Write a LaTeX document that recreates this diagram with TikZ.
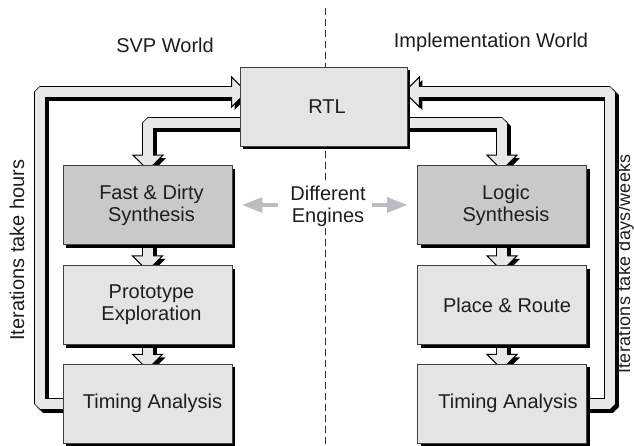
\documentclass[tikz,border=0pt]{standalone}
\usepackage{fontspec}
\setmainfont{Liberation Sans}
\usetikzlibrary{calc,shadows}
\definecolor{boxlight}{HTML}{E4E4E4}
\definecolor{boxdark}{HTML}{C9C9C9}
\definecolor{arrfill}{HTML}{E8E8E8}
\definecolor{txt}{HTML}{1E1E1E}
\definecolor{engarrow}{HTML}{BBBDC0}
\pgfdeclarelayer{back}
\pgfdeclarelayer{arrows}
\pgfsetlayers{back,arrows,main}
\newcommand{\headpoly}[2]{($(#1)!1!90:(#2)$) -- (#2) -- ($(#1)!1!-90:(#2)$) -- cycle}
\newcommand{\fatarrow}[3]{%
  \begin{scope}[transform canvas={xshift=3pt,yshift=-3pt}]
    \draw[black, line width=12pt, line join=bevel] #1;
    \fill[black] \headpoly{#2}{#3};
  \end{scope}
  \draw[black, line width=12pt, line join=bevel] #1;
  \filldraw[fill=arrfill, draw=black, line width=1pt, line join=miter] \headpoly{#2}{#3};
  \draw[arrfill, line width=10pt, line join=bevel, shorten >=-1pt] #1;
}
\begin{document}
\begin{tikzpicture}[x=1pt,y=-1pt,
  box/.style={draw=black!75, line width=0.8pt, fill=boxlight, minimum width=169pt,
    minimum height=79pt, inner sep=0pt,
    drop shadow={shadow xshift=3pt, shadow yshift=-3pt, fill=black, opacity=1}},
  darkbox/.style={box, fill=boxdark},
  lbl/.style={font=\fontsize{20}{22}\selectfont, text=txt, align=center},
  dashline/.style={draw=black!80, line width=0.9pt, dash pattern=on 7pt off 4pt},
  engarr/.style={engarrow, line width=4pt}
]
\useasboundingbox (0,0) rectangle (634,445);

% ---------------- boxes ----------------
\node[box, minimum width=167pt, label={[lbl, xshift=3.5pt]center:RTL}] (rtl) at (323.5,106.5) {};
\node[darkbox, label={[lbl, xshift=4pt]center:{Fast \& Dirty\\Synthesis}}] (fast) at (147.5,205) {};
\node[box, label={[lbl, xshift=4pt]center:{Prototype\\Exploration}}] (proto) at (147.5,305) {};
\node[box, label={[lbl, xshift=5pt]center:{Timing Analysis}}] (timL) at (147.5,403.5) {};
\node[darkbox, label={[lbl, xshift=4pt]center:{Logic\\Synthesis}}] (logic) at (502,205) {};
\node[box, label={[lbl, xshift=5pt]center:{Place \& Route}}] (pr) at (502,305) {};
\node[box, label={[lbl, xshift=6pt]center:{Timing Analysis}}] (timR) at (502,403.5) {};

% ---------------- titles and side labels ----------------
\node[lbl, anchor=base] (svp) at (165,52) {SVP World};
\node[lbl, anchor=base] (impl) at (491,47) {Implementation World};
\node[lbl, rotate=90, anchor=base] (ith) at (24,250) {Iterations take hours};
\node[lbl, font=\fontsize{18}{20}\selectfont, rotate=90, anchor=base, inner sep=0pt] (itd) at (630,264)
  {\addfontfeature{LetterSpace=1.8}Iterations take days/weeks};

% ---------------- different engines ----------------
\node[lbl, fill=white, inner sep=2pt] (de) at (328,206) {Different\\Engines};
\coordinate (eLt) at ($(fast.east)+(10,0)$);
\coordinate (eLb) at ($(fast.east)+(30,0)$);
\coordinate (eLs) at ($(fast.east)+(46,0)$);
\coordinate (eRt) at ($(logic.west)+(-10,0)$);
\coordinate (eRb) at ($(logic.west)+(-30,0)$);
\coordinate (eRs) at ($(logic.west)+(-45,0)$);
\draw[engarr] (eLs) -- ($(eLb)+(-1,0)$);
\fill[engarrow] ($(eLb)+(0,-8)$) -- (eLt) -- ($(eLb)+(0,8)$) -- cycle;
\draw[engarr] (eRs) -- ($(eRb)+(1,0)$);
\fill[engarrow] ($(eRb)+(0,-8)$) -- (eRt) -- ($(eRb)+(0,8)$) -- cycle;

% ---------------- divider ----------------
\begin{pgfonlayer}{back}
\coordinate (dtop) at (325,8);
\coordinate (dbot) at (325,445);
\draw[dashline] (dtop) -- (dbot);
\end{pgfonlayer}

% ---------------- fat arrows ----------------
\begin{pgfonlayer}{arrows}
% left loop
\coordinate (LLc) at (40,92);
\coordinate (LLb) at ($(rtl.west)+(-8,-14.5)$);
\coordinate (LLt) at ($(LLb)+(15,0)$);
\coordinate (LLs) at ($(timL.west)+(3,0)$);
\fatarrow{(LLs) -| (LLc) -- (LLb)}{LLb}{LLt}
% right loop
\coordinate (RRc) at (610,92);
\coordinate (RRb) at ($(rtl.east)+(12,-14.5)$);
\coordinate (RRt) at ($(RRb)+(-15,0)$);
\coordinate (RRs) at ($(timR.east)+(-3,0)$);
\fatarrow{(RRs) -| (RRc) -- (RRb)}{RRb}{RRt}
% RTL -> Fast & Dirty
\coordinate (FLc) at (148,123);
\coordinate (FLs) at ($(rtl.west |- FLc)+(3,0)$);
\coordinate (FLb) at ($(fast.north)+(0.5,-10)$);
\coordinate (FLt) at ($(FLb)+(0,15)$);
\fatarrow{(FLs) -| (FLb)}{FLb}{FLt}
% RTL -> Logic Synthesis
\coordinate (RLs) at ($(rtl.east |- FLc)+(-3,0)$);
\coordinate (RLb) at ($(logic.north)+(0,-10)$);
\coordinate (RLt) at ($(RLb)+(0,15)$);
\fatarrow{(RLs) -| (RLb)}{RLb}{RLt}
% left column small arrows
\coordinate (A1s) at ($(fast.south)+(0,-3)$);
\coordinate (A1b) at ($(fast.south)+(0,11)$);
\coordinate (A1t) at ($(A1b)+(0,15)$);
\fatarrow{(A1s) -- (A1b)}{A1b}{A1t}
\coordinate (A2s) at ($(proto.south)+(0,-3)$);
\coordinate (A2b) at ($(proto.south)+(0,9.5)$);
\coordinate (A2t) at ($(A2b)+(0,15)$);
\fatarrow{(A2s) -- (A2b)}{A2b}{A2t}
% right column small arrows
\coordinate (B1s) at ($(logic.south)+(0,-3)$);
\coordinate (B1b) at ($(logic.south)+(0,11)$);
\coordinate (B1t) at ($(B1b)+(0,15)$);
\fatarrow{(B1s) -- (B1b)}{B1b}{B1t}
\coordinate (B2s) at ($(pr.south)+(0,-3)$);
\coordinate (B2b) at ($(pr.south)+(0,9.5)$);
\coordinate (B2t) at ($(B2b)+(0,15)$);
\fatarrow{(B2s) -- (B2b)}{B2b}{B2t}
\end{pgfonlayer}
\end{tikzpicture}
\end{document}
